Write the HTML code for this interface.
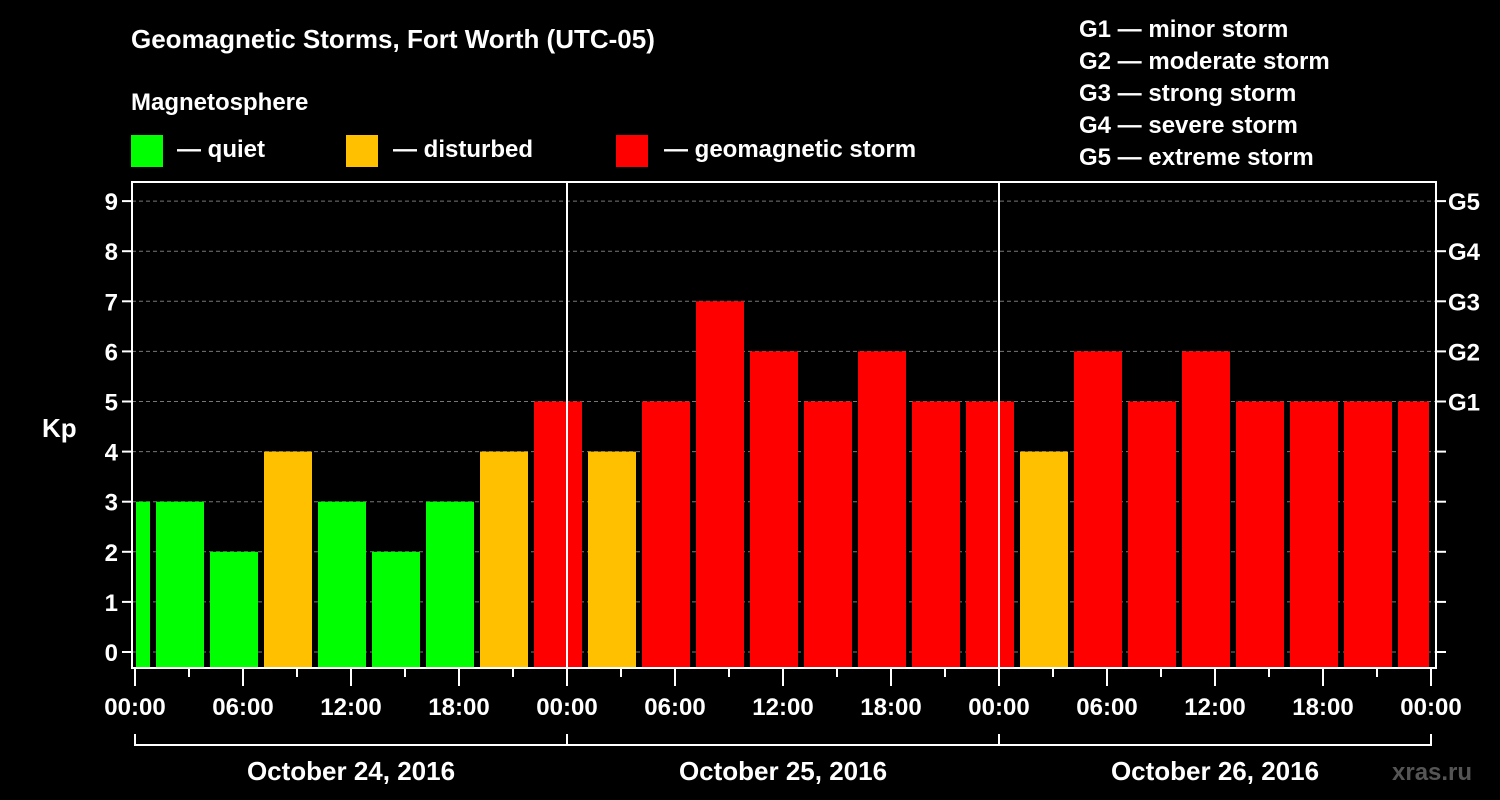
<!DOCTYPE html>
<html><head><meta charset="utf-8"><style>
body{margin:0;background:#000;}
svg{display:block;font-family:"Liberation Sans",sans-serif;font-weight:bold;}
</style></head><body>
<svg width="1500" height="800" id="c">
<rect width="1500" height="800" fill="#000"/>
<text x="131" y="48" fill="#fff" font-size="26">Geomagnetic Storms, Fort Worth (UTC-05)</text>
<text x="131" y="110" fill="#fff" font-size="24">Magnetosphere</text>
<g><rect x="131" y="135" width="32" height="32" fill="#00ff00"/><text x="177" y="157" fill="#fff" font-size="24">— quiet</text></g>
<g><rect x="346" y="135" width="32" height="32" fill="#ffc000"/><text x="393" y="157" fill="#fff" font-size="24">— disturbed</text></g>
<g><rect x="616" y="135" width="32" height="32" fill="#ff0000"/><text x="664" y="157" fill="#fff" font-size="24">— geomagnetic storm</text></g>
<g fill="#fff" font-size="24">
<text x="1079" y="37">G1 — minor storm</text>
<text x="1079" y="69">G2 — moderate storm</text>
<text x="1079" y="101">G3 — strong storm</text>
<text x="1079" y="133">G4 — severe storm</text>
<text x="1079" y="165">G5 — extreme storm</text>
</g>
<text x="42" y="437" fill="#fff" font-size="26">Kp</text>
<text x="1392" y="780" fill="#555" font-size="24">xras.ru</text>
<g id="plot"></g>
</svg>
<script>
const values=[3,3,2,4,3,2,3,4,5,4,5,7,6,5,6,5,5,4,6,5,6,5,5,5,5];
const yTicks=[0,1,2,3,4,5,6,7,8,9];
const gLabels=["G1","G2","G3","G4","G5"];
const xLabels=["00:00","06:00","12:00","18:00","00:00","06:00","12:00","18:00","00:00","06:00","12:00","18:00","00:00"];
const days=["October 24, 2016","October 25, 2016","October 26, 2016"];
const startHour=-2, stepH=3;
const X0=135,PX=18,Y0=652,PY=50.1,TOP=182,BOT=668,LEFT=132,RIGHT=1436,XEND=X0+72*PX;
const x=h=>X0+h*PX, y=v=>Y0-v*PY;
const ns="http://www.w3.org/2000/svg",p=document.getElementById('plot');
function mk(t,a,txt){const e=document.createElementNS(ns,t);for(const k in a)e.setAttribute(k,a[k]);if(txt!=null)e.textContent=txt;p.appendChild(e);return e;}
yTicks.forEach(v=>{
 const l=mk('line',{x1:LEFT,x2:RIGHT,y1:y(v),y2:y(v),stroke:'#777','stroke-dasharray':'4,3'});
 
 
});
values.forEach((v,i)=>{
 const h0=startHour+i*stepH,h1=h0+stepH;
 let a=x(h0)+3,b=x(h1)-3;
 if(a<X0+1)a=X0+1; if(b>XEND-2)b=XEND-2;
 const c=v>=5?'#ff0000':v>=4?'#ffc000':'#00ff00';
 const r=mk('rect',{x:a,y:y(v),width:b-a,height:BOT-y(v),fill:c});
 
 
});
mk('rect',{x:LEFT,y:TOP,width:RIGHT-LEFT,height:BOT-TOP,fill:'none',stroke:'#fff','stroke-width':2});
[1,2].forEach(d=>{const l=mk('line',{x1:x(d*24),x2:x(d*24),y1:TOP,y2:BOT,stroke:'#fff','stroke-width':2});
 
 });
yTicks.forEach(v=>{
 mk('line',{x1:LEFT-10,x2:LEFT,y1:y(v),y2:y(v),stroke:'#fff','stroke-width':2});
 mk('line',{x1:RIGHT,x2:RIGHT+10,y1:y(v),y2:y(v),stroke:'#fff','stroke-width':2});
 const t=mk('text',{x:LEFT-14,y:y(v)+9,fill:'#fff','font-size':24,'text-anchor':'end'},String(v));
 
 
});
gLabels.forEach((g,i)=>{
 const t=mk('text',{x:RIGHT+12,y:y(5+i)+9,fill:'#fff','font-size':24},g);
 
 
});
for(let h=0;h<=72;h+=3){
 const major=h%6===0;
 mk('line',{x1:x(h),x2:x(h),y1:BOT,y2:BOT+(major?18:9),stroke:'#fff','stroke-width':2});
}
xLabels.forEach((s,i)=>{
 const t=mk('text',{x:x(i*6),y:715,fill:'#fff','font-size':24,'text-anchor':'middle'},s);
 
 
});
mk('line',{x1:X0,x2:XEND,y1:745,y2:745,stroke:'#fff','stroke-width':2});
for(let d=0;d<=3;d++)mk('line',{x1:x(d*24),x2:x(d*24),y1:734,y2:746,stroke:'#fff','stroke-width':2});
days.forEach((s,i)=>{
 const t=mk('text',{x:x(i*24+12),y:780,fill:'#fff','font-size':26,'text-anchor':'middle'},s);
 
 
});
</script>
</body></html>
